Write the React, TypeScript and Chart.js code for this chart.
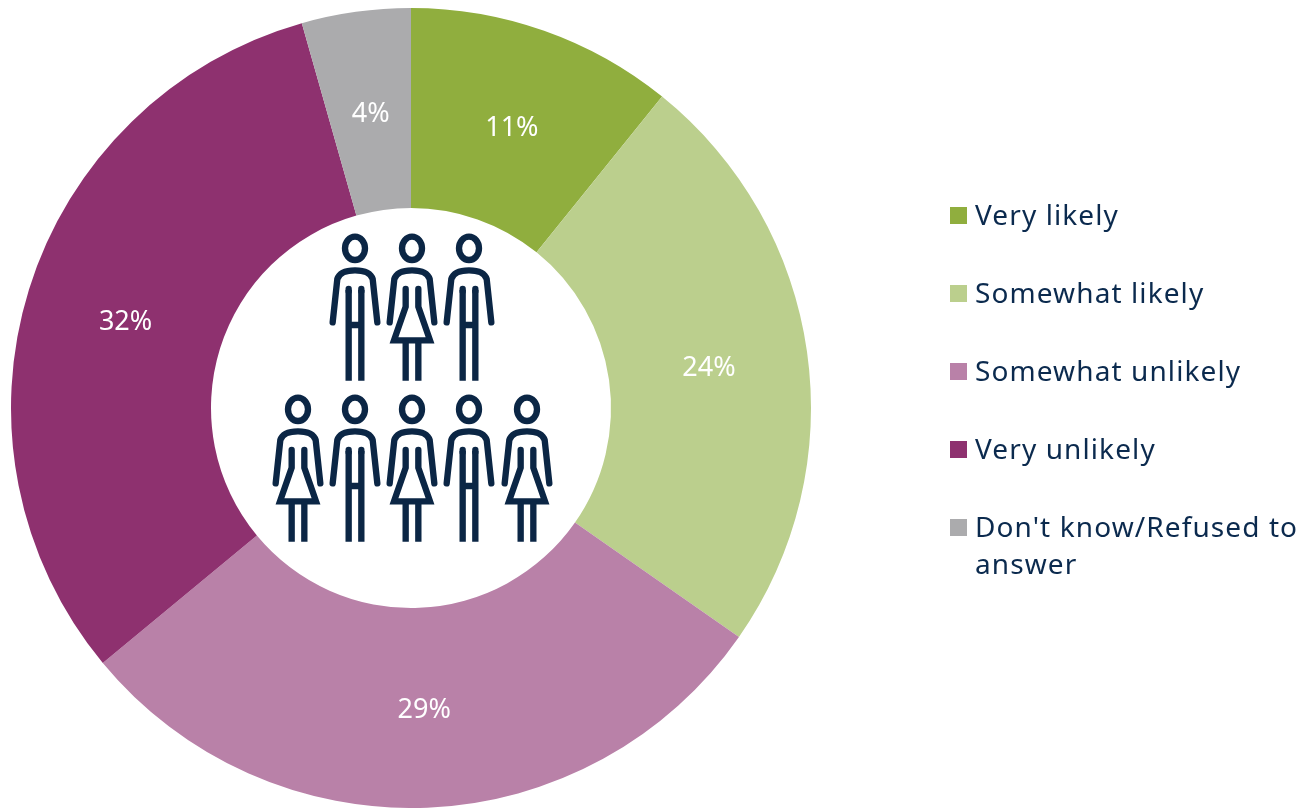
import React, { useEffect, useRef } from "react";
import { Chart, registerables } from "chart.js";

Chart.register(...registerables);

const categories = ["Very likely", "Somewhat likely", "Somewhat unlikely", "Very unlikely", "Don't know/Refused to answer"];
const shares = [10.8, 23.9, 29.3, 31.6, 4.4];
const colors = ["#90AE3E", "#BBCF8D", "#B981A8", "#8E316F", "#ABABAD"];
const NAVY = "#0B2645";
const FONT = '"Noto Sans"';

// Rows of pictogram figures, offset from the doughnut centre: [x, kind]
const topRow: [number, "m" | "f"][] = [[-56, "m"], [1, "f"], [58, "m"]];
const bottomRow: [number, "m" | "f"][] = [[-113, "f"], [-56, "m"], [1, "f"], [58, "m"], [116, "f"]];

function drawFigure(ctx: CanvasRenderingContext2D, cx: number, y0: number, kind: "m" | "f") {
  const k = 1 / 3;
  ctx.save();
  ctx.translate(cx, y0);
  ctx.scale(k, k);
  ctx.strokeStyle = NAVY;
  ctx.lineWidth = 19;
  ctx.lineCap = "round";
  ctx.lineJoin = "miter";
  ctx.beginPath();
  ctx.ellipse(0, 43, 30, 35, 0, 0, Math.PI * 2);
  ctx.stroke();
  ctx.beginPath();
  ctx.moveTo(-67, 265);
  ctx.lineTo(-53, 135);
  ctx.quadraticCurveTo(-45, 109, 0, 109);
  ctx.quadraticCurveTo(45, 109, 53, 135);
  ctx.lineTo(67, 265);
  ctx.stroke();
  if (kind === "m") {
    ctx.beginPath();
    ctx.moveTo(-19, 165);
    ctx.lineTo(-19, 172);
    ctx.moveTo(19, 165);
    ctx.lineTo(19, 172);
    ctx.stroke();
    ctx.lineCap = "butt";
    ctx.beginPath();
    ctx.moveTo(-19, 168);
    ctx.lineTo(-19, 440);
    ctx.moveTo(19, 168);
    ctx.lineTo(19, 440);
    ctx.moveTo(-19, 273);
    ctx.lineTo(19, 273);
    ctx.stroke();
  } else {
    ctx.beginPath();
    ctx.moveTo(-19, 165);
    ctx.lineTo(-19, 218);
    ctx.lineTo(-54, 319);
    ctx.lineTo(54, 319);
    ctx.lineTo(19, 218);
    ctx.lineTo(19, 165);
    ctx.stroke();
    ctx.lineCap = "butt";
    ctx.beginPath();
    ctx.moveTo(-19, 319);
    ctx.lineTo(-19, 440);
    ctx.moveTo(19, 319);
    ctx.lineTo(19, 440);
    ctx.stroke();
  }
  ctx.restore();
}

const decorPlugin = {
  id: "decor",
  afterDatasetsDraw(chart: any) {
    const { ctx } = chart;
    const meta = chart.getDatasetMeta(0);
    ctx.save();
    ctx.font = `27px ${FONT}`;
    ctx.fillStyle = "#FFFFFF";
    ctx.textAlign = "center";
    ctx.textBaseline = "middle";
    meta.data.forEach((arc: any, i: number) => {
      const p = arc.getCenterPoint();
      ctx.fillText(`${Math.round(shares[i])}%`, p.x + 1, p.y + 3);
    });
    ctx.restore();
    const cx = meta.data[0].x;
    const cy = meta.data[0].y;
    topRow.forEach(([dx, kind]) => drawFigure(ctx, cx + dx, cy - 174, kind));
    bottomRow.forEach(([dx, kind]) => drawFigure(ctx, cx + dx, cy - 13, kind));
  },
};

export default function App() {
  const ref = useRef<HTMLCanvasElement>(null);
  useEffect(() => {
    document.body.style.margin = "0";
    const chart = new Chart(ref.current!, {
      type: "doughnut",
      data: {
        labels: categories,
        datasets: [{ data: shares, backgroundColor: colors, borderWidth: 0, hoverOffset: 0 }],
      },
      options: {
        animation: false,
        responsive: false,
        cutout: "50%",
        layout: { padding: { left: 11, top: 8, right: 495, bottom: 0 } },
        plugins: { legend: { display: false }, tooltip: { enabled: false } },
      },
      plugins: [decorPlugin],
    });
    return () => chart.destroy();
  }, []);
  return (
    <div style={{ position: "relative", width: 1306, height: 808, overflow: "hidden", background: "#fff" }}>
      <canvas ref={ref} width={1306} height={808} style={{ position: "absolute", left: 0, top: 0 }} />
      {categories.map((c, i) => (
        <div key={c} style={{ position: "absolute", left: 950, top: 196 + i * 78, width: 356, display: "flex", fontFamily: FONT, fontSize: 28, letterSpacing: "1.1px", lineHeight: "37px", color: "#0B2A4E" }}>
          <span style={{ width: 17, height: 17, marginTop: 11, marginRight: 8, background: colors[i], flex: "none" }} />
          <span style={{ width: 330 }}>{c}</span>
        </div>
      ))}
    </div>
  );
}
